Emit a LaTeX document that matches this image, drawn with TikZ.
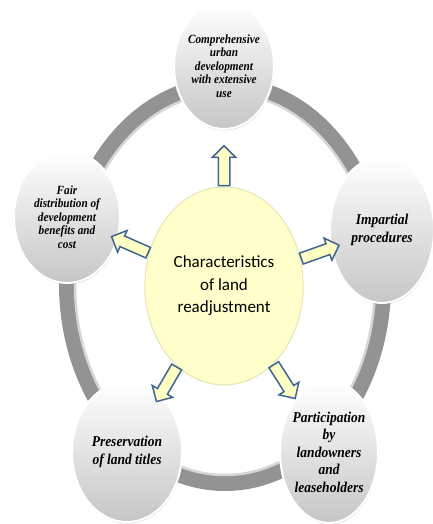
\documentclass[tikz,border=0pt]{standalone}
\usepackage{fontspec}
\usetikzlibrary{shapes.geometric}
\usetikzlibrary{shapes.arrows}
\usetikzlibrary{shadows}
\newfontfamily\featurefont[FakeStretch=0.9]{Liberation Serif}
\newfontfamily\corefont{Carlito}
\definecolor{ringgray}{HTML}{939393}
\definecolor{sheen}{HTML}{D6D6D6}
\definecolor{bubblebottom}{HTML}{C6C6C6}
\definecolor{corefill}{HTML}{FFFFCC}
\definecolor{coreedge}{HTML}{E6E6B4}
\definecolor{arrowfill}{HTML}{FFFFC4}
\definecolor{arrowblue}{HTML}{3E6594}
\tikzset{
  ring/.style={
    draw=ringgray,
    line width=16pt,
  },
  ring sheen/.style={
    draw=sheen,
    line width=2.5pt,
  },
  bubble/.style={
    ellipse,
    draw=white,
    line width=2pt,
    top color=white,
    bottom color=bubblebottom,
    drop shadow={shadow xshift=0.5pt,shadow yshift=-1.5pt,opacity=0.3},
    align=center,
    inner sep=-10pt,
  },
  small print/.style={
    node font=\featurefont\bfseries\itshape\fontsize{12.5}{13.5}\selectfont,
  },
  large print/.style={
    node font=\featurefont\bfseries\itshape\fontsize{15}{17.5}\selectfont,
  },
  core/.style={
    ellipse,
    draw=coreedge,
    fill=corefill,
    line width=1pt,
    minimum width=158pt,
    minimum height=198pt,
    align=center,
    node font=\corefont\fontsize{17}{22.5}\selectfont,
  },
  push/.style={
    single arrow,
    draw=arrowblue,
    fill=arrowfill,
    line width=1.5pt,
    inner sep=5pt,
    single arrow head extend=6pt,
    minimum height=40pt,
    sloped,
    allow upside down,
    pos=0,
    anchor=tail,
  },
}

\begin{document}
\begin{tikzpicture}[x=1pt,y=1pt]
  \useasboundingbox (0,0) rectangle (432,524);

  \draw [ring] (225,240) ellipse [x radius=158pt,y radius=199pt];
  \draw [ring sheen] (225,240) ellipse [x radius=150pt,y radius=191pt];

  \node (top)   [bubble,small print,minimum width=100pt,minimum height=126pt] at (224,458) {%
    Comprehensive\\ urban\\ development\\ with extensive\\ use};
  \node (right) [bubble,large print,minimum width=104pt,minimum height=146pt] at (382,294) {%
    Impartial\\ procedures};
  \node (br)    [bubble,large print,minimum width=98pt,minimum height=142pt]  at (329,72)  {%
    Participation\\ by\\ landowners\\ and\\ leaseholders};
  \node (bl)    [bubble,large print,minimum width=110pt,minimum height=140pt] at (127,72)  {%
    Preservation\\ of land titles};
  \node (left)  [bubble,small print,minimum width=106pt,minimum height=132pt] at (67,307)  {%
    Fair\\ distribution of\\ development\\ benefits and\\ cost};

  \node (hub) [core] at (224,238) {Characteristics\\ of land\\ readjustment};

  \path (hub) -- node [push] {} (top);
  \path (hub) -- node [push] {} (right);
  \path (hub) -- node [push] {} (br);
  \path (hub) -- node [push] {} (bl);
  \path (hub) -- node [push] {} (left);
\end{tikzpicture}
\end{document}
